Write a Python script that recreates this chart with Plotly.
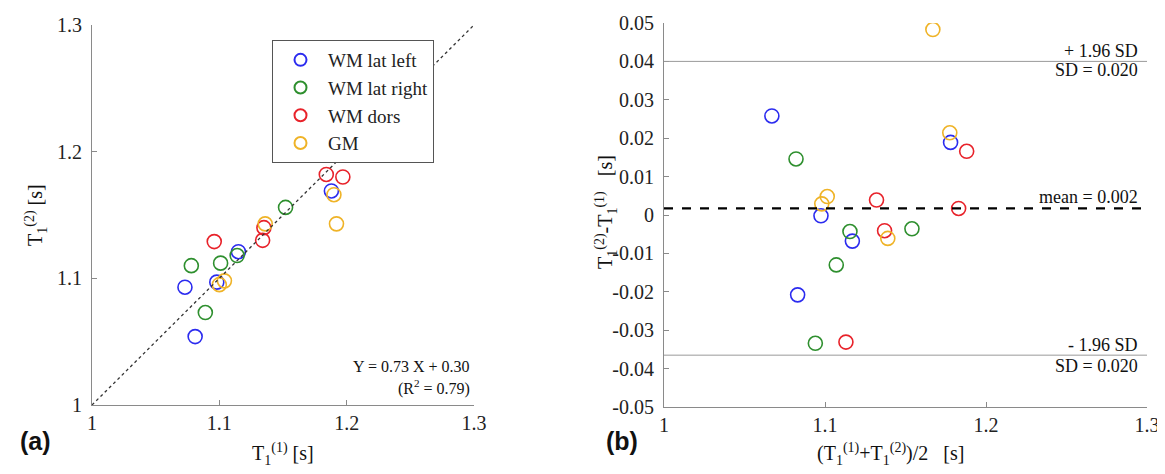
import plotly.graph_objects as go

groups = ["WM lat left", "WM lat right", "WM dors", "GM"]
colors = ["#2b2bef", "#2e8f2e", "#e8222a", "#efb327"]

# Panel (a): T1(1) vs T1(2)
t1_a = {
    "WM lat left":  [1.188, 1.115, 1.098, 1.073, 1.081],
    "WM lat right": [1.152, 1.114, 1.078, 1.101, 1.089],
    "WM dors":      [1.184, 1.197, 1.135, 1.134, 1.096],
    "GM":           [1.190, 1.192, 1.136, 1.100, 1.104],
}
t2_a = {
    "WM lat left":  [1.169, 1.121, 1.097, 1.093, 1.054],
    "WM lat right": [1.156, 1.118, 1.110, 1.112, 1.073],
    "WM dors":      [1.182, 1.180, 1.140, 1.130, 1.129],
    "GM":           [1.166, 1.143, 1.143, 1.095, 1.098],
}

# Panel (b): Bland-Altman
mean_b = {
    "WM lat left":  [1.067, 1.178, 1.0975, 1.117, 1.083],
    "WM lat right": [1.082, 1.1155, 1.154, 1.107, 1.094],
    "WM dors":      [1.188, 1.132, 1.183, 1.137, 1.113],
    "GM":           [1.167, 1.1775, 1.1014, 1.098, 1.139],
}
diff_b = {
    "WM lat left":  [0.0258, 0.0189, -0.0002, -0.0068, -0.0208],
    "WM lat right": [0.0146, -0.0043, -0.0036, -0.0130, -0.0334],
    "WM dors":      [0.0166, 0.0039, 0.0017, -0.0041, -0.0331],
    "GM":           [0.0483, 0.0214, 0.0048, 0.0029, -0.0061],
}
mean_diff = 0.0017
upper_loa = 0.0400
lower_loa = -0.0365

ticks_a = [1.0, 1.1, 1.2, 1.3]
ticktext_a = ["1", "1.1", "1.2", "1.3"]
ticks_by = [0.05, 0.04, 0.03, 0.02, 0.01, 0.0, -0.01, -0.02, -0.03, -0.04, -0.05]
ticktext_by = ["0.05", "0.04", "0.03", "0.02", "0.01", "0", "-0.01", "-0.02", "-0.03", "-0.04", "-0.05"]

FONT = "Liberation Serif, serif"
SANS = "Liberation Sans, Arial, sans-serif"
PAGE_MARGIN = 8  # default body margin of the html page
W, H = 1165 - PAGE_MARGIN, 474 - PAGE_MARGIN

fig = go.Figure()

for g, c in zip(groups, colors):
    fig.add_trace(go.Scatter(
        x=t1_a[g], y=t2_a[g], mode="markers", name=g,
        marker=dict(symbol="circle-open", size=14, color=c, line=dict(width=1.6, color=c)),
        xaxis="x", yaxis="y", showlegend=True))
for g, c in zip(groups, colors):
    fig.add_trace(go.Scatter(
        x=mean_b[g], y=diff_b[g], mode="markers", name=g,
        marker=dict(symbol="circle-open", size=14, color=c, line=dict(width=1.6, color=c)),
        xaxis="x2", yaxis="y2", showlegend=False))

# identity line
fig.add_trace(go.Scatter(x=[1.0, 1.3], y=[1.0, 1.3], mode="lines",
                         line=dict(color="#333", width=1.3, dash="dot"),
                         xaxis="x", yaxis="y", showlegend=False, hoverinfo="skip"))

def px(x):
    return (x - PAGE_MARGIN) / W

def py(y):
    return 1 - (y - PAGE_MARGIN) / H

axis_common = dict(showgrid=False, zeroline=False, showline=True, linecolor="#8a8a8a",
                   linewidth=1, ticks="inside", ticklen=5, tickcolor="#8a8a8a",
                   automargin=False,
                   tickfont=dict(family=FONT, size=20, color="#222"))

fig.update_layout(
    width=W, height=H,
    margin=dict(l=0, r=0, t=0, b=0),
    paper_bgcolor="white", plot_bgcolor="white",
    font=dict(family=FONT, size=18, color="#222"),
    xaxis=dict(domain=[px(92), px(474)], range=[1.0, 1.3], tickvals=ticks_a, ticktext=ticktext_a,
               anchor="y", **axis_common),
    yaxis=dict(domain=[py(405), py(25)], range=[1.0, 1.3], tickvals=ticks_a, ticktext=ticktext_a,
               anchor="x", ticklabelstandoff=5, **axis_common),
    xaxis2=dict(domain=[px(664), px(1147)], range=[1.0, 1.3], tickvals=ticks_a, ticktext=ticktext_a,
                anchor="y2", **axis_common),
    yaxis2=dict(domain=[py(407), py(23)], range=[-0.05, 0.05], tickvals=ticks_by, ticktext=ticktext_by,
                anchor="x2", ticklabelstandoff=5, **axis_common),
    legend=dict(x=px(272), y=py(40), xanchor="left", yanchor="top",
                bordercolor="#555", borderwidth=1, bgcolor="white",
                font=dict(family=FONT, size=19, color="#222"),
                itemsizing="constant", tracegroupgap=0, itemwidth=45),
    showlegend=True,
)

# limit-of-agreement lines
for yv, col, wd, dash in [(upper_loa, "#9a9a9a", 1, "solid"), (lower_loa, "#9a9a9a", 1, "solid"),
                          (mean_diff, "black", 2.2, "dash")]:
    fig.add_shape(type="line", xref="x2 domain", yref="y2", x0=0, x1=1, y0=yv, y1=yv,
                  line=dict(color=col, width=wd, dash=dash))

ann = []
def a(x, y, text, xanchor="center", size=16, angle=0, family=FONT, bold=False):
    t = f"<b>{text}</b>" if bold else text
    ann.append(dict(x=px(x), y=py(y), xref="paper", yref="paper", text=t, showarrow=False,
                    xanchor=xanchor, yanchor="middle", textangle=angle,
                    font=dict(family=family, size=size, color="#111")))

a(472, 366, "Y = 0.73 X + 0.30", xanchor="right", size=16)
a(472, 387, "(R<sup>2</sup> = 0.79)", xanchor="right", size=16)
a(1140, 51, "+ 1.96 SD", xanchor="right", size=18)
a(1140, 70, "SD = 0.020", xanchor="right", size=18)
a(1140, 197, "mean = 0.002", xanchor="right", size=18)
a(1140, 345, "- 1.96 SD", xanchor="right", size=18)
a(1140, 366, "SD = 0.020", xanchor="right", size=18)
a(283, 454, "T<sub>1</sub><sup>(1)</sup> [s]", size=20)
a(890, 454, "(T<sub>1</sub><sup>(1)</sup>+T<sub>1</sub><sup>(2)</sup>)/2   [s]", size=20)
a(36, 215, "T<sub>1</sub><sup>(2)</sup> [s]", size=20, angle=-90)
a(606, 212, "T<sub>1</sub><sup>(2)</sup>-T<sub>1</sub><sup>(1)</sup>   [s]", size=20, angle=-90)
a(35, 441, "(a)", size=25, family=SANS, bold=True)
a(622, 441, "(b)", size=25, family=SANS, bold=True)
fig.update_layout(annotations=ann)

fig.write_html("out.html")
